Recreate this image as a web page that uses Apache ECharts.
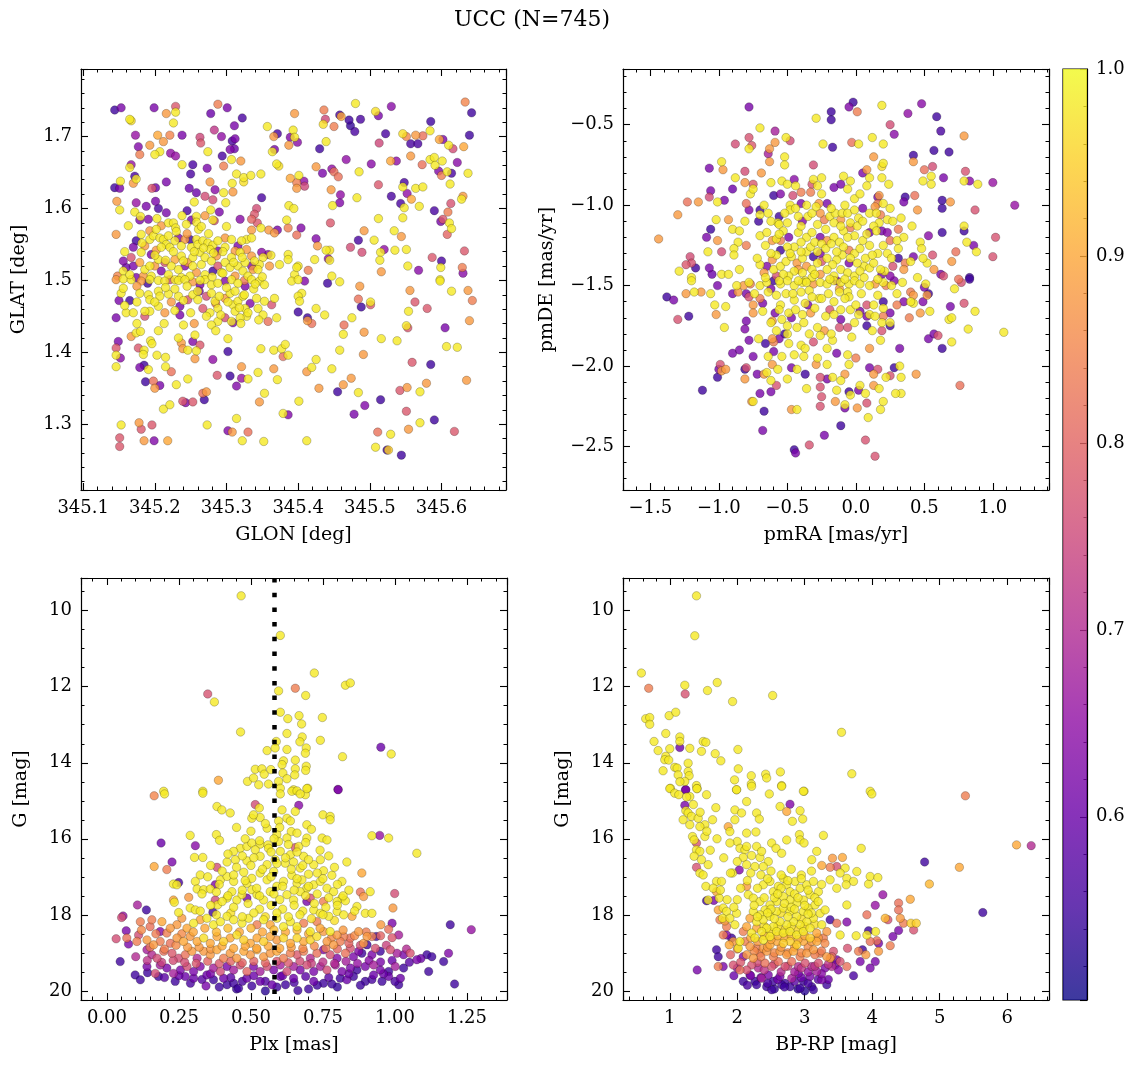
<!DOCTYPE html>
<html><head><meta charset="utf-8">
<script src="https://cdn.jsdelivr.net/npm/echarts@6/dist/echarts.min.js"></script>
<style>html,body{margin:0;padding:0;background:#fff}#c{width:1136px;height:1067px}</style>
</head><body><div id="c"></div>
<script>
const titleText = 'UCC (N=745)';
// [GLON, GLAT, probability]
const p1 = [[345.144,1.737,0.55],[345.153,1.740,0.62],[345.199,1.740,0.62],[345.229,1.742,0.78],[345.216,1.732,0.88],[345.229,1.734,0.98],[345.288,1.745,0.84],[345.301,1.740,0.62],[345.278,1.732,0.60],[345.395,1.732,0.88],[345.436,1.737,0.84],[345.480,1.746,0.98],[345.508,1.735,0.97],[345.530,1.742,0.64],[345.633,1.748,0.85],[345.642,1.733,0.55],[345.458,1.730,0.56],[345.460,1.728,0.90],[345.471,1.723,0.55],[345.473,1.715,0.54],[345.487,1.724,0.56],[345.438,1.724,0.75],[345.435,1.717,0.97],[345.450,1.714,0.84],[345.512,1.729,0.62],[345.585,1.721,0.55],[345.584,1.708,0.98],[345.165,1.724,0.98],[345.167,1.722,0.97],[345.226,1.719,0.98],[345.322,1.726,0.56],[345.311,1.715,0.62],[345.357,1.714,0.98],[345.393,1.709,0.98],[345.371,1.704,0.56],[345.366,1.700,0.88],[345.173,1.702,0.66],[345.204,1.702,0.90],[345.221,1.702,0.85],[345.238,1.702,0.62],[345.263,1.699,0.75],[345.264,1.691,0.78],[345.283,1.709,0.72],[345.293,1.700,0.65],[345.308,1.694,0.56],[345.312,1.697,0.62],[345.389,1.699,0.63],[345.395,1.699,0.98],[345.479,1.707,0.56],[345.522,1.704,0.56],[345.546,1.704,0.97],[345.551,1.700,0.85],[345.564,1.702,0.88],[345.574,1.701,0.82],[345.597,1.696,0.90],[345.602,1.696,0.62],[345.610,1.688,0.98],[345.639,1.702,0.55],[345.177,1.686,0.63],[345.179,1.675,0.84],[345.193,1.688,0.88],[345.212,1.693,0.88],[345.207,1.679,0.98],[345.200,1.675,0.98],[345.222,1.677,0.65],[345.229,1.673,0.66],[345.274,1.679,0.98],[345.305,1.682,0.63],[345.311,1.683,0.60],[345.294,1.673,0.56],[345.307,1.668,0.98],[345.320,1.666,0.88],[345.364,1.679,0.98],[345.367,1.682,0.62],[345.387,1.688,0.88],[345.399,1.692,0.64],[345.430,1.683,0.55],[345.439,1.693,0.98],[345.467,1.668,0.65],[345.502,1.662,0.64],[345.513,1.691,0.75],[345.529,1.666,0.90],[345.537,1.666,0.65],[345.557,1.690,0.56],[345.567,1.690,0.56],[345.557,1.673,0.88],[345.584,1.668,0.98],[345.590,1.671,0.98],[345.591,1.660,0.98],[345.601,1.666,0.98],[345.573,1.661,0.82],[345.616,1.683,0.76],[345.631,1.686,0.90],[345.622,1.664,0.64],[345.165,1.657,0.98],[345.167,1.661,0.66],[345.172,1.645,0.56],[345.174,1.641,0.98],[345.170,1.635,0.88],[345.238,1.661,0.98],[345.253,1.661,0.56],[345.250,1.648,0.56],[345.273,1.656,0.62],[345.296,1.659,0.84],[345.314,1.648,0.98],[345.324,1.643,0.98],[345.324,1.637,0.97],[345.334,1.646,0.98],[345.348,1.648,0.98],[345.370,1.662,0.98],[345.373,1.659,0.97],[345.389,1.642,0.90],[345.401,1.646,0.98],[345.398,1.636,0.84],[345.408,1.638,0.65],[345.409,1.631,0.75],[345.398,1.628,0.88],[345.425,1.658,0.88],[345.434,1.649,0.62],[345.447,1.655,0.65],[345.450,1.651,0.82],[345.456,1.644,0.82],[345.485,1.651,0.98],[345.596,1.652,0.63],[345.600,1.646,0.84],[345.608,1.651,0.98],[345.614,1.649,0.56],[345.637,1.649,0.98],[345.144,1.629,0.55],[345.151,1.628,0.62],[345.152,1.638,0.98],[345.196,1.628,0.78],[345.201,1.629,0.60],[345.216,1.637,0.62],[345.248,1.628,0.60],[345.258,1.622,0.60],[345.277,1.637,0.88],[345.284,1.626,0.64],[345.296,1.622,0.98],[345.308,1.635,0.98],[345.309,1.623,0.88],[345.349,1.615,0.56],[345.446,1.626,0.88],[345.459,1.619,0.65],[345.458,1.608,0.63],[345.448,1.604,0.98],[345.482,1.615,0.98],[345.512,1.633,0.78],[345.530,1.617,0.56],[345.543,1.607,0.56],[345.548,1.636,0.56],[345.546,1.630,0.98],[345.552,1.621,0.65],[345.558,1.613,0.90],[345.564,1.628,0.98],[345.574,1.630,0.98],[345.569,1.603,0.98],[345.548,1.601,0.98],[345.612,1.634,0.98],[345.628,1.613,0.98],[345.630,1.617,0.88],[345.613,1.607,0.77],[345.147,1.610,0.88],[345.151,1.598,0.98],[345.174,1.608,0.66],[345.188,1.603,0.62],[345.201,1.610,0.62],[345.205,1.600,0.56],[345.216,1.594,0.62],[345.245,1.597,0.56],[345.255,1.609,0.98],[345.270,1.617,0.76],[345.281,1.612,0.76],[345.278,1.598,0.98],[345.299,1.608,0.98],[345.342,1.600,0.76],[345.339,1.592,0.78],[345.335,1.585,0.80],[345.343,1.580,0.78],[345.387,1.604,0.98],[345.394,1.600,0.98],[345.590,1.597,0.56],[345.609,1.595,0.84],[345.172,1.595,0.98],[345.180,1.589,0.98],[345.179,1.584,0.62],[345.191,1.585,0.63],[345.203,1.586,0.98],[345.219,1.580,0.98],[345.226,1.580,0.98],[345.229,1.573,0.98],[345.163,1.576,0.98],[345.244,1.578,0.98],[345.251,1.584,0.62],[345.258,1.589,0.98],[345.258,1.581,0.98],[345.261,1.571,0.98],[345.281,1.584,0.98],[345.283,1.583,0.76],[345.146,1.564,0.88],[345.319,1.585,0.64],[345.348,1.573,0.98],[345.359,1.570,0.88],[345.371,1.570,0.62],[345.367,1.566,0.88],[345.386,1.573,0.84],[345.384,1.584,0.98],[345.404,1.573,0.63],[345.445,1.580,0.78],[345.512,1.586,0.98],[345.546,1.587,0.98],[345.602,1.585,0.78],[345.611,1.580,0.98],[345.614,1.572,0.98],[345.599,1.582,0.62],[345.492,1.569,0.88],[345.534,1.569,0.98],[345.544,1.561,0.88],[345.608,1.564,0.80],[345.425,1.558,0.63],[345.427,1.548,0.88],[345.398,1.563,0.82],[345.484,1.556,0.56],[345.473,1.546,0.76],[345.506,1.556,0.98],[345.520,1.543,0.65],[345.515,1.539,0.98],[345.535,1.542,0.98],[345.551,1.543,0.98],[345.632,1.541,0.78],[345.439,1.542,0.98],[345.444,1.542,0.97],[345.442,1.530,0.65],[345.444,1.528,0.98],[345.489,1.539,0.76],[345.514,1.528,0.98],[345.553,1.520,0.98],[345.568,1.514,0.64],[345.587,1.532,0.78],[345.600,1.527,0.56],[345.599,1.518,0.98],[345.629,1.518,0.84],[345.630,1.510,0.64],[345.516,1.512,0.88],[345.386,1.536,0.98],[345.386,1.529,0.98],[345.374,1.522,0.98],[345.423,1.529,0.98],[345.400,1.520,0.98],[345.414,1.514,0.84],[345.395,1.508,0.98],[345.398,1.518,0.98],[345.358,1.536,0.64],[345.362,1.535,0.98],[345.349,1.539,0.64],[345.351,1.532,0.98],[345.335,1.534,0.88],[345.335,1.520,0.63],[345.346,1.522,0.98],[345.344,1.515,0.98],[345.328,1.557,0.98],[345.335,1.559,0.98],[345.321,1.555,0.98],[345.316,1.548,0.62],[345.312,1.541,0.88],[345.447,1.506,0.98],[345.598,1.501,0.98],
[345.156,1.527,0.63],[345.160,1.518,0.60],[345.156,1.513,0.98],[345.148,1.506,0.85],[345.167,1.532,0.77],[345.170,1.520,0.62],[345.179,1.525,0.90],[345.186,1.515,0.98],[345.193,1.520,0.98],[345.195,1.506,0.98],[345.184,1.506,0.88],[345.174,1.504,0.62],[345.193,1.557,0.98],[345.198,1.562,0.98],[345.207,1.559,0.98],[345.212,1.557,0.98],[345.216,1.550,0.98],[345.209,1.546,0.98],[345.202,1.542,0.88],[345.221,1.546,0.98],[345.228,1.555,0.98],[345.219,1.562,0.98],[345.233,1.559,0.63],[345.237,1.548,0.98],[345.242,1.557,0.88],[345.249,1.557,0.55],[345.251,1.546,0.98],[345.258,1.557,0.98],[345.260,1.550,0.98],[345.267,1.555,0.98],[345.274,1.552,0.98],[345.281,1.549,0.98],[345.288,1.555,0.98],[345.298,1.559,0.88],[345.307,1.557,0.98],[345.298,1.546,0.98],[345.288,1.541,0.62],[345.277,1.543,0.98],[345.263,1.539,0.98],[345.253,1.532,0.98],[345.246,1.525,0.88],[345.237,1.534,0.98],[345.228,1.529,0.90],[345.223,1.520,0.98],[345.214,1.525,0.77],[345.205,1.529,0.98],[345.200,1.520,0.88],[345.209,1.513,0.62],[345.219,1.508,0.98],[345.233,1.515,0.98],[345.242,1.520,0.63],[345.253,1.520,0.98],[345.265,1.522,0.98],[345.270,1.532,0.98],[345.279,1.527,0.98],[345.286,1.534,0.88],[345.288,1.520,0.78],[345.298,1.525,0.98],[345.307,1.532,0.98],[345.305,1.518,0.98],[345.293,1.511,0.98],[345.281,1.513,0.55],[345.270,1.508,0.98],[345.258,1.511,0.88],[345.249,1.506,0.98],[345.237,1.504,0.98],[345.228,1.501,0.98],[345.312,1.506,0.88],[345.316,1.520,0.98],[345.323,1.513,0.98],[345.330,1.506,0.98],[345.337,1.515,0.88],[345.339,1.527,0.98],[345.326,1.525,0.98],[345.319,1.539,0.98],[345.328,1.543,0.88],[345.195,1.536,0.62],[345.186,1.548,0.88],[345.181,1.539,0.98],[345.174,1.555,0.55],[345.202,1.571,0.98],[345.209,1.576,0.88],[345.193,1.569,0.88],[345.181,1.564,0.98],[345.170,1.546,0.62],
[345.146,1.501,0.88],[345.156,1.502,0.98],[345.167,1.501,0.98],[345.181,1.499,0.88],[345.190,1.496,0.55],[345.193,1.501,0.98],[345.205,1.500,0.98],[345.214,1.499,0.98],[345.221,1.501,0.77],[345.233,1.500,0.98],[345.242,1.501,0.98],[345.253,1.498,0.88],[345.263,1.494,0.62],[345.270,1.501,0.98],[345.279,1.494,0.98],[345.288,1.496,0.98],[345.298,1.499,0.63],[345.307,1.501,0.98],[345.316,1.496,0.98],[345.326,1.492,0.62],[345.335,1.501,0.98],[345.346,1.499,0.98],[345.353,1.494,0.98],[345.153,1.482,0.98],[345.150,1.472,0.62],[345.165,1.472,0.55],[345.156,1.489,0.98],[345.179,1.482,0.98],[345.191,1.480,0.98],[345.193,1.473,0.98],[345.205,1.485,0.98],[345.207,1.478,0.98],[345.219,1.481,0.98],[345.223,1.470,0.88],[345.233,1.478,0.98],[345.235,1.464,0.62],[345.246,1.473,0.77],[345.253,1.480,0.98],[345.260,1.473,0.98],[345.267,1.461,0.78],[345.272,1.478,0.76],[345.279,1.482,0.98],[345.284,1.471,0.98],[345.288,1.461,0.98],[345.298,1.475,0.88],[345.305,1.482,0.98],[345.309,1.466,0.98],[345.312,1.457,0.98],[345.316,1.471,0.98],[345.323,1.478,0.98],[345.326,1.461,0.98],[345.328,1.450,0.98],[345.333,1.468,0.63],[345.319,1.448,0.98],[345.307,1.443,0.98],[345.298,1.448,0.76],[345.309,1.441,0.62],[345.288,1.443,0.98],[345.279,1.438,0.98],[345.277,1.455,0.98],[345.260,1.485,0.98],[345.160,1.455,0.98],[345.170,1.455,0.98],[345.193,1.457,0.98],[345.205,1.464,0.98],[345.214,1.455,0.88],[345.186,1.450,0.77],[345.186,1.457,0.98],[345.146,1.448,0.62],[345.235,1.452,0.62],[345.344,1.461,0.98],[345.351,1.452,0.98],[345.358,1.443,0.82],[345.370,1.448,0.98],[345.367,1.475,0.98],[345.353,1.471,0.98],[345.363,1.466,0.77],[345.391,1.499,0.98],[345.400,1.501,0.98],[345.405,1.482,0.98],[345.400,1.478,0.98],[345.402,1.471,0.98],[345.409,1.499,0.63],[345.441,1.496,0.55],[345.458,1.498,0.98],[345.486,1.492,0.88],[345.598,1.499,0.98],[345.614,1.485,0.98],[345.556,1.486,0.88],[345.637,1.486,0.88],[345.643,1.472,0.84],[345.563,1.470,0.78],[345.580,1.461,0.78],[345.554,1.457,0.98],[345.639,1.444,0.88],[345.400,1.456,0.55],[345.413,1.448,0.55],[345.413,1.444,0.88],[345.419,1.440,0.82],[345.425,1.461,0.98],[345.437,1.452,0.98],[345.484,1.474,0.82],[345.488,1.463,0.55],[345.501,1.470,0.98],[345.501,1.466,0.78],[345.475,1.448,0.98],[345.464,1.438,0.82],[345.463,1.425,0.98],[345.492,1.428,0.88],[345.551,1.437,0.98],[345.553,1.434,0.78],[345.605,1.434,0.62],[345.516,1.419,0.98],[345.538,1.416,0.98],[345.302,1.419,0.98],[345.233,1.420,0.98],[345.237,1.413,0.88],[345.253,1.415,0.63],[345.256,1.424,0.98],[345.263,1.410,0.78],[345.246,1.403,0.98],[345.258,1.402,0.98],[345.239,1.405,0.88],[345.167,1.422,0.88],[345.174,1.427,0.98],[345.180,1.429,0.98],[345.149,1.415,0.62],[345.146,1.406,0.78],[345.146,1.396,0.98],[345.152,1.392,0.64],[345.177,1.406,0.78],[345.185,1.403,0.98],[345.184,1.397,0.98],[345.194,1.416,0.98],[345.196,1.412,0.98],[345.203,1.396,0.98],[345.215,1.393,0.98],[345.256,1.391,0.88],[345.215,1.380,0.98],[345.223,1.373,0.82],[345.146,1.380,0.98],[345.179,1.379,0.62],[345.185,1.382,0.55],[345.191,1.376,0.98],[345.187,1.359,0.55],[345.198,1.360,0.82],[345.200,1.350,0.88],[345.207,1.354,0.62],[345.230,1.355,0.98],[345.246,1.363,0.98],[345.281,1.390,0.65],[345.287,1.368,0.78],[345.272,1.345,0.88],[345.269,1.334,0.55],[345.267,1.343,0.82],[345.239,1.332,0.78],[345.243,1.330,0.63],[345.253,1.331,0.78],[345.212,1.321,0.98],[345.221,1.327,0.98],[345.302,1.401,0.55],[345.305,1.367,0.55],[345.314,1.353,0.63],[345.321,1.364,0.66],[345.330,1.363,0.98],[345.321,1.380,0.88],[345.344,1.372,0.98],[345.348,1.405,0.98],[345.346,1.331,0.88],[345.353,1.343,0.98],[345.366,1.377,0.88],[345.371,1.362,0.98],[345.366,1.403,0.98],[345.377,1.405,0.98],[345.382,1.411,0.98],[345.379,1.394,0.82],[345.386,1.396,0.98],[345.401,1.332,0.98],[345.412,1.277,0.98],[345.412,1.373,0.88],[345.419,1.379,0.98],[345.425,1.390,0.98],[345.429,1.350,0.88],[345.447,1.377,0.98],[345.455,1.345,0.55],[345.463,1.355,0.88],[345.458,1.403,0.98],[345.474,1.364,0.88],[345.484,1.344,0.98],[345.493,1.326,0.63],[345.478,1.314,0.62],[345.515,1.334,0.55],[345.491,1.397,0.88],[345.379,1.315,0.98],[345.386,1.313,0.63],[345.273,1.299,0.98],[345.302,1.291,0.63],[345.308,1.289,0.88],[345.314,1.308,0.98],[345.322,1.277,0.98],[345.330,1.289,0.82],[345.352,1.276,0.98],[345.178,1.302,0.88],[345.181,1.293,0.78],[345.196,1.299,0.78],[345.185,1.277,0.88],[345.199,1.277,0.63],[345.218,1.277,0.90],[345.153,1.299,0.98],[345.151,1.281,0.78],[345.151,1.269,0.78],[345.511,1.289,0.82],[345.529,1.286,0.98],[345.508,1.268,0.98],[345.524,1.264,0.55],[345.526,1.264,0.95],[345.544,1.257,0.55],[345.542,1.347,0.78],[345.552,1.351,0.88],[345.570,1.345,0.98],[345.579,1.357,0.88],[345.635,1.361,0.88],[345.551,1.318,0.78],[345.554,1.293,0.88],[345.570,1.302,0.98],[345.590,1.306,0.55],[345.559,1.386,0.78],[345.585,1.383,0.55],[345.618,1.290,0.78],[345.607,1.408,0.98],[345.622,1.407,0.98],
[345.200,1.535,0.98],[345.215,1.528,0.98],[345.226,1.540,0.98],[345.240,1.527,0.98],[345.255,1.540,0.98],[345.268,1.545,0.98],[345.282,1.538,0.98],[345.295,1.540,0.98],[345.310,1.525,0.98],[345.322,1.532,0.98],[345.280,1.505,0.98],[345.295,1.510,0.98],[345.263,1.500,0.98],[345.300,1.490,0.98],[345.312,1.485,0.98],[345.325,1.480,0.98],[345.338,1.488,0.98],[345.302,1.470,0.98],[345.318,1.462,0.98],[345.290,1.478,0.98],[345.292,1.452,0.98],[345.330,1.455,0.98],[345.342,1.475,0.98],[345.215,1.490,0.98],[345.228,1.488,0.98],[345.245,1.492,0.98],[345.200,1.470,0.98],[345.175,1.492,0.88],[345.165,1.508,0.98],[345.158,1.540,0.98],[345.182,1.552,0.98],[345.230,1.568,0.98],[345.245,1.565,0.88],[345.265,1.575,0.98],[345.275,1.565,0.98],[345.238,1.590,0.98],[345.270,1.590,0.88],[345.300,1.575,0.98],[345.335,1.570,0.88],[345.290,1.595,0.62],[345.350,1.505,0.98],[345.360,1.520,0.88],[345.340,1.495,0.98],[345.325,1.500,0.84],[345.262,1.485,0.62],[345.285,1.468,0.84],[345.240,1.472,0.98],[345.228,1.458,0.98],[345.250,1.455,0.98],[345.272,1.450,0.98],[345.255,1.440,0.88],[345.285,1.430,0.98],[345.240,1.438,0.98],[345.213,1.440,0.98],[345.175,1.470,0.98],[345.158,1.465,0.98],[345.205,1.430,0.98],[345.175,1.440,0.98],[345.320,1.440,0.98],[345.345,1.445,0.98]];
// [pmRA, pmDE, probability]
const p2 = [[-0.78,-0.39,0.62],[-0.18,-0.42,0.55],[-0.18,-0.47,0.55],[-0.02,-0.36,0.55],[-0.05,-0.39,0.63],[0.01,-0.42,0.84],[0.19,-0.38,0.98],[0.38,-0.43,0.65],[0.48,-0.37,0.64],[0.59,-0.45,0.55],[0.62,-0.54,0.56],[0.25,-0.50,0.76],[0.28,-0.56,0.64],[0.79,-0.57,0.88],[-0.29,-0.46,0.98],[-0.70,-0.52,0.98],[-0.59,-0.54,0.68],[-0.78,-0.58,0.77],[-0.88,-0.62,0.76],[-0.78,-0.65,0.98],[-0.76,-0.63,0.78],[-0.63,-0.65,0.88],[-0.59,-0.61,0.88],[-0.51,-0.58,0.98],[-0.48,-0.60,0.76],[-0.64,-0.68,0.68],[-0.63,-0.73,0.88],[-0.52,-0.70,0.98],[-0.52,-0.75,0.98],[-0.31,-0.75,0.76],[-0.24,-0.62,0.98],[-0.17,-0.64,0.55],[-0.03,-0.61,0.82],[0.02,-0.62,0.98],[0.12,-0.58,0.98],[0.20,-0.62,0.98],[0.57,-0.66,0.55],[0.68,-0.67,0.55],[0.42,-0.69,0.55],[0.42,-0.73,0.88],[0.13,-0.70,0.88],[0.20,-0.74,0.98],[0.19,-0.76,0.97],[-1.07,-0.77,0.62],[-0.98,-0.73,0.98],[-0.97,-0.78,0.88],[-0.81,-0.79,0.76],[-0.69,-0.80,0.88],[-0.88,-0.83,0.98],[-0.81,-0.86,0.88],[-0.75,-0.87,0.78],[-0.77,-0.93,0.98],[-0.75,-0.90,0.98],[-1.06,-0.91,0.62],[-1.07,-0.95,0.76],[-1.01,-0.98,0.98],[-0.96,-0.97,0.62],[-0.90,-0.90,0.60],[-1.15,-0.98,0.88],[-1.23,-0.98,0.82],[-1.30,-1.06,0.88],[-1.44,-1.21,0.88],[-0.62,-0.86,0.98],[-0.54,-0.85,0.98],[-0.55,-0.93,0.63],[-0.60,-0.94,0.55],[-0.50,-0.87,0.98],[-0.45,-0.84,0.64],[-0.44,-0.88,0.98],[-0.40,-0.92,0.84],[-0.46,-0.94,0.76],[-0.33,-0.92,0.84],[-0.31,-0.84,0.98],[-0.25,-0.83,0.98],[-0.28,-0.88,0.98],[-0.25,-0.93,0.98],[-0.32,-0.87,0.77],[-0.16,-0.89,0.62],[-0.11,-0.87,0.62],[-0.09,-0.82,0.98],[-0.04,-0.85,0.98],[-0.06,-0.90,0.98],[-0.01,-0.96,0.98],[0.03,-0.93,0.98],[0.05,-0.80,0.62],[0.08,-0.78,0.88],[0.10,-0.83,0.98],[0.08,-0.88,0.98],[0.19,-0.83,0.98],[0.24,-0.87,0.98],[0.17,-0.94,0.88],[0.16,-0.95,0.62],[0.20,-0.99,0.98],[0.16,-0.99,0.84],[0.36,-0.95,0.55],[0.35,-0.98,0.62],[0.43,-0.94,0.82],[0.50,-0.78,0.82],[0.56,-0.76,0.76],[0.55,-0.82,0.98],[0.49,-0.85,0.98],[0.55,-0.87,0.98],[0.64,-0.83,0.62],[0.80,-0.79,0.77],[0.83,-0.85,0.64],[0.79,-0.85,0.98],[0.89,-0.87,0.98],[1.00,-0.86,0.66],[1.16,-1.00,0.66],[0.69,-0.98,0.88],[0.63,-0.97,0.55],[0.63,-1.02,0.55],[0.87,-1.03,0.77],[-0.80,-0.99,0.82],[-0.78,-1.03,0.63],[-0.70,-1.03,0.55],[-0.67,-1.00,0.98],[-0.70,-1.06,0.98],[-0.64,-1.05,0.98],[-0.56,-1.07,0.55],[-0.57,-1.11,0.98],[-0.56,-1.12,0.98],[-0.71,-1.10,0.55],[-0.81,-1.10,0.98],[-0.93,-1.09,0.88],[-1.02,-1.09,0.98],[-1.06,-1.15,0.55],[-1.09,-1.20,0.62],[-1.01,-1.22,0.88],[-0.90,-1.15,0.98],[-0.85,-1.16,0.98],[-0.86,-1.23,0.98],[-0.89,-1.27,0.98],[-0.89,-1.31,0.98],[-1.08,-1.29,0.98],[-0.98,-1.29,0.76],[-1.21,-1.32,0.76],[-1.20,-1.36,0.77],[-1.24,-1.37,0.78],[-1.17,-1.39,0.55],[-1.29,-1.41,0.98],[-1.07,-1.39,0.62],[-1.05,-1.43,0.60],[-1.20,-1.45,0.98],[-0.98,-1.43,0.98],[-0.93,-1.43,0.98],[-0.48,-1.00,0.98],[-0.40,-0.99,0.62],[-0.48,-1.03,0.98],[-0.42,-1.07,0.98],[-0.39,-1.10,0.63],[-0.35,-1.07,0.98],[-0.32,-1.05,0.98],[-0.29,-1.01,0.98],[-0.27,-0.99,0.88],[-0.21,-0.99,0.62],[-0.26,-1.05,0.88],[-0.23,-1.09,0.84],[-0.19,-1.07,0.98],[-0.15,-1.05,0.98],[-0.10,-1.05,0.98],[-0.11,-1.09,0.88],[-0.06,-1.05,0.98],[-0.01,-1.03,0.98],[0.02,-1.08,0.98],[0.05,-1.02,0.62],[0.10,-1.05,0.98],[0.14,-1.01,0.88],[0.18,-1.06,0.84],[0.23,-1.09,0.98],[0.27,-1.10,0.98],[0.17,-1.11,0.98],[0.13,-1.13,0.98],[0.10,-1.17,0.62],[0.15,-1.16,0.98],[0.19,-1.16,0.62],[0.23,-1.17,0.64],[0.25,-1.22,0.82],[0.31,-1.15,0.84],[0.35,-1.20,0.98],[0.41,-1.13,0.98],[0.45,-1.03,0.88],[0.53,-1.19,0.64],[0.63,-1.17,0.55],[0.79,-1.16,0.55],[0.79,-1.13,0.98],[0.86,-1.25,0.62],[0.88,-1.29,0.98],[1.02,-1.20,0.77],[1.00,-1.32,0.77],[0.81,-1.23,0.98],[0.73,-1.29,0.82],[0.70,-1.35,0.88],[0.75,-1.46,0.82],[0.83,-1.45,0.55],[0.62,-1.43,0.62],[0.64,-1.44,0.77],[0.56,-1.31,0.77],[0.52,-1.36,0.98],[0.57,-1.40,0.88],[0.49,-1.33,0.98],[0.47,-1.23,0.98],[0.48,-1.27,0.98],[0.42,-1.32,0.62],[0.40,-1.35,0.98],[0.36,-1.36,0.84],[0.31,-1.27,0.98],[0.31,-1.33,0.55],[0.27,-1.38,0.77],[0.23,-1.30,0.98],[0.16,-1.30,0.98],[0.21,-1.41,0.98],[0.19,-1.43,0.62],[0.25,-1.44,0.64],
[-0.70,-1.19,0.98],[-0.65,-1.17,0.98],[-0.61,-1.22,0.88],[-0.58,-1.21,0.98],[-0.53,-1.16,0.98],[-0.49,-1.20,0.62],[-0.45,-1.26,0.98],[-0.50,-1.26,0.98],[-0.55,-1.28,0.55],[-0.58,-1.31,0.98],[-0.61,-1.34,0.88],[-0.65,-1.38,0.63],[-0.70,-1.37,0.98],[-0.72,-1.33,0.98],[-0.67,-1.42,0.88],[-0.60,-1.40,0.98],[-0.55,-1.38,0.98],[-0.51,-1.35,0.98],[-0.47,-1.32,0.98],[-0.43,-1.36,0.88],[-0.39,-1.33,0.98],[-0.36,-1.29,0.98],[-0.33,-1.26,0.98],[-0.30,-1.23,0.98],[-0.26,-1.20,0.62],[-0.25,-1.24,0.98],[-0.21,-1.22,0.88],[-0.16,-1.20,0.98],[-0.12,-1.23,0.98],[-0.09,-1.26,0.98],[-0.05,-1.28,0.84],[-0.01,-1.30,0.98],[0.03,-1.27,0.98],[0.07,-1.33,0.98],[0.06,-1.38,0.98],[0.01,-1.36,0.98],[-0.04,-1.33,0.98],[-0.10,-1.31,0.98],[-0.14,-1.34,0.98],[-0.17,-1.37,0.98],[-0.21,-1.33,0.98],[-0.26,-1.30,0.62],[-0.28,-1.36,0.98],[-0.32,-1.40,0.98],[-0.36,-1.38,0.88],[-0.39,-1.42,0.98],[-0.45,-1.41,0.98],[-0.49,-1.44,0.98],[-0.53,-1.43,0.98],[-0.26,-1.43,0.88],[-0.21,-1.40,0.98],[-0.16,-1.44,0.98],[-0.11,-1.40,0.98],[-0.06,-1.42,0.98],[-0.01,-1.44,0.98],[0.03,-1.41,0.98],[0.10,-1.39,0.98],[0.13,-1.36,0.98],[0.18,-1.40,0.98],[-0.36,-1.20,0.98],[-0.42,-1.17,0.98],[-0.22,-1.15,0.98],[-0.09,-1.16,0.98],[-0.01,-1.19,0.98],[0.05,-1.22,0.98],[0.10,-1.25,0.98],[-0.22,-1.27,0.98],[-0.31,-1.32,0.55],[-0.58,-1.44,0.77],[-0.32,-1.45,0.98],[-0.14,-1.47,0.63],[-0.37,-1.47,0.98],[-0.50,-1.11,0.98],[-0.40,-1.13,0.98],[-0.16,-1.11,0.98],[-0.11,-1.13,0.98],[-0.04,-1.14,0.84],[-0.04,-1.11,0.98],[0.01,-1.13,0.98],
[-1.20,-1.47,0.98],[-1.01,-1.50,0.62],[-0.87,-1.50,0.98],[-0.82,-1.50,0.88],[-0.77,-1.49,0.84],[-0.70,-1.50,0.98],[-0.65,-1.48,0.98],[-0.60,-1.47,0.55],[-0.55,-1.49,0.98],[-0.50,-1.47,0.98],[-0.45,-1.50,0.98],[-0.39,-1.48,0.98],[-0.36,-1.48,0.98],[-0.31,-1.49,0.88],[-0.26,-1.48,0.98],[-0.21,-1.49,0.98],[-0.16,-1.47,0.98],[-0.11,-1.48,0.98],[-0.05,-1.49,0.98],[-0.01,-1.47,0.98],[0.03,-1.49,0.98],[0.10,-1.50,0.98],[0.14,-1.49,0.88],[0.20,-1.48,0.98],[0.28,-1.47,0.63],[0.34,-1.48,0.98],[0.51,-1.49,0.98],[0.50,-1.51,0.62],[0.72,-1.52,0.98],[0.77,-1.48,0.77],[0.83,-1.46,0.55],[-1.38,-1.57,0.55],[-1.33,-1.59,0.62],[-1.24,-1.55,0.88],[-1.30,-1.71,0.77],[-1.22,-1.69,0.55],[-1.06,-1.55,0.98],[-1.03,-1.62,0.98],[-1.02,-1.68,0.88],[-0.96,-1.76,0.98],[-0.95,-1.63,0.98],[-0.86,-1.54,0.88],[-0.80,-1.55,0.62],[-0.78,-1.57,0.77],[-0.75,-1.62,0.88],[-0.75,-1.67,0.88],[-0.80,-1.72,0.62],[-0.81,-1.77,0.63],[-0.78,-1.84,0.62],[-0.71,-1.83,0.98],[-0.68,-1.61,0.62],[-0.66,-1.86,0.55],[-0.64,-1.54,0.98],[-0.62,-1.52,0.62],[-0.61,-1.72,0.88],[-0.62,-1.73,0.98],[-0.59,-1.67,0.62],[-0.58,-1.78,0.98],[-0.55,-1.62,0.98],[-0.54,-1.71,0.98],[-0.52,-1.80,0.55],[-0.51,-1.55,0.98],[-0.49,-1.67,0.98],[-0.45,-1.59,0.98],[-0.47,-1.70,0.62],[-0.44,-1.65,0.98],[-0.43,-1.76,0.98],[-0.40,-1.54,0.98],[-0.39,-1.68,0.98],[-0.38,-1.73,0.98],[-0.37,-1.61,0.98],[-0.34,-1.53,0.98],[-0.33,-1.67,0.88],[-0.27,-1.58,0.98],[-0.25,-1.58,0.98],[-0.28,-1.76,0.98],[-0.23,-1.78,0.88],[-0.22,-1.69,0.98],[-0.19,-1.65,0.77],[-0.16,-1.60,0.98],[-0.12,-1.54,0.98],[-0.11,-1.65,0.98],[-0.06,-1.54,0.98],[-0.05,-1.57,0.98],[-0.04,-1.65,0.98],[-0.01,-1.73,0.98],[-0.11,-1.71,0.62],[-0.12,-1.76,0.77],[-0.06,-1.76,0.77],[0.02,-1.68,0.98],[0.03,-1.66,0.62],[0.08,-1.69,0.62],[0.10,-1.68,0.98],[0.08,-1.75,0.55],[0.08,-1.62,0.77],[0.13,-1.62,0.98],[0.14,-1.69,0.98],[0.19,-1.73,0.98],[0.20,-1.69,0.84],[0.19,-1.78,0.77],[0.25,-1.75,0.55],[0.25,-1.67,0.62],[0.25,-1.73,0.98],[0.30,-1.62,0.84],[0.35,-1.60,0.63],[0.40,-1.54,0.84],[0.42,-1.56,0.88],[0.39,-1.70,0.84],[0.42,-1.61,0.98],[0.47,-1.67,0.88],[0.49,-1.60,0.63],[0.52,-1.56,0.88],[0.54,-1.66,0.98],[0.53,-1.55,0.55],[0.69,-1.63,0.62],[0.68,-1.71,0.98],[0.70,-1.70,0.98],[0.79,-1.61,0.77],[0.87,-1.66,0.98],[0.82,-1.77,0.98],[1.08,-1.79,0.98],[0.70,-1.85,0.98],[0.53,-1.83,0.62],[0.57,-1.80,0.62],[0.60,-1.81,0.77],[0.63,-1.89,0.55],[-1.18,-1.54,0.98],[-1.13,-1.54,0.88],[-0.61,-1.83,0.88],[-0.60,-1.85,0.84],[-0.56,-1.83,0.62],[-0.50,-1.80,0.98],[-0.49,-1.86,0.98],[-0.45,-1.93,0.98],[-0.40,-1.87,0.98],[-0.37,-1.89,0.98],[-0.31,-1.85,0.77],[-0.26,-1.81,0.98],[-0.17,-1.84,0.98],[-0.14,-1.92,0.62],[-0.06,-1.93,0.98],[-0.05,-1.99,0.98],[0.00,-1.95,0.84],[0.10,-1.89,0.88],[0.18,-1.84,0.98],[0.32,-1.89,0.62],[0.32,-2.00,0.98],[0.28,-2.01,0.55],[0.33,-2.07,0.98],[0.33,-2.17,0.98],[0.29,-2.17,0.98],[0.25,-2.06,0.77],[0.22,-2.07,0.98],[0.16,-2.02,0.77],[0.13,-2.05,0.88],[0.10,-2.01,0.62],[0.13,-2.12,0.88],[0.17,-2.14,0.98],[0.20,-2.22,0.98],[0.18,-2.27,0.98],[0.08,-2.23,0.77],[0.09,-2.32,0.98],[0.07,-2.17,0.98],[0.03,-2.12,0.98],[0.02,-2.15,0.62],[0.01,-2.26,0.88],[-0.05,-2.16,0.55],[-0.04,-2.18,0.98],[-0.08,-2.24,0.98],[-0.08,-2.26,0.62],[-0.15,-2.22,0.88],[-0.14,-2.15,0.98],[-0.17,-2.07,0.98],[-0.11,-2.09,0.98],[-0.08,-2.05,0.88],[-0.21,-2.08,0.62],[-0.26,-2.07,0.77],[-0.26,-2.13,0.77],[-0.25,-2.19,0.77],[-0.26,-2.25,0.77],[-0.36,-2.14,0.98],[-0.28,-1.95,0.98],[-0.21,-1.99,0.98],[-0.29,-1.99,0.88],[-0.38,-1.94,0.98],[-0.43,-2.02,0.98],[-0.50,-2.08,0.98],[-0.47,-2.01,0.62],[-0.57,-2.02,0.98],[-0.61,-1.99,0.88],[-0.62,-2.09,0.98],[-0.62,-2.16,0.62],[-0.58,-2.12,0.77],[-0.67,-2.05,0.88],[-0.65,-2.04,0.98],[-0.72,-2.05,0.62],[-0.70,-2.17,0.62],[-0.75,-2.22,0.98],[-0.76,-2.22,0.88],[-0.81,-2.08,0.88],[-0.80,-2.01,0.77],[-0.81,-2.02,0.55],[-0.75,-1.94,0.62],[-0.67,-2.28,0.55],[-0.43,-2.27,0.98],[-0.47,-2.27,0.88],[-0.37,-2.05,0.55],[-0.34,-2.49,0.77],[-0.45,-2.52,0.55],[-0.44,-2.54,0.62],[-0.68,-2.40,0.62],[-0.23,-2.43,0.62],[-0.11,-2.37,0.55],[0.07,-2.46,0.77],[0.14,-2.56,0.77],[0.76,-2.12,0.82],[0.44,-2.05,0.88],[-0.98,-2.03,0.88],[-1.00,-2.02,0.62],[-0.99,-1.99,0.77],[-0.95,-2.02,0.88],[-1.01,-2.07,0.55],[-0.90,-1.92,0.62],[-0.85,-1.90,0.62],[-1.12,-2.15,0.55],[-0.64,-1.94,0.98],[-0.54,-1.94,0.98],[-0.60,-1.91,0.62],[-0.21,-1.89,0.98],
[-0.62,-1.10,0.98],[-0.52,-1.05,0.98],[-0.44,-1.02,0.98],[-0.36,-1.00,0.98],[-0.28,-1.12,0.98],[-0.18,-1.02,0.98],[-0.08,-1.00,0.98],[0.05,-1.10,0.98],[0.15,-1.05,0.98],[0.25,-1.02,0.98],[0.33,-1.08,0.98],[-0.66,-1.25,0.98],[-0.56,-1.18,0.98],[-0.40,-1.23,0.98],[-0.32,-1.17,0.98],[-0.18,-1.24,0.98],[-0.06,-1.20,0.98],[0.08,-1.18,0.98],[0.20,-1.25,0.98],[0.30,-1.22,0.98],[-0.62,-1.30,0.98],[-0.48,-1.30,0.98],[-0.40,-1.29,0.98],[-0.28,-1.29,0.98],[-0.14,-1.29,0.98],[0.12,-1.31,0.98],[0.26,-1.33,0.98],[-0.66,-1.45,0.98],[-0.56,-1.47,0.98],[-0.42,-1.47,0.98],[-0.30,-1.43,0.98],[-0.19,-1.46,0.98],[-0.08,-1.46,0.98],[0.06,-1.45,0.98],[0.16,-1.46,0.98],[0.26,-1.50,0.98],[-0.74,-1.55,0.98],[-0.58,-1.56,0.98],[-0.46,-1.55,0.98],[-0.32,-1.57,0.98],[-0.20,-1.55,0.98],[-0.08,-1.58,0.98],[0.04,-1.55,0.98],[0.16,-1.56,0.98],[0.30,-1.55,0.98],[-0.68,-1.66,0.98],[-0.56,-1.65,0.98],[-0.30,-1.64,0.98],[-0.16,-1.68,0.98],[0.00,-1.62,0.98],[0.20,-1.64,0.98],[-0.50,-1.75,0.98],[-0.34,-1.80,0.98],[-0.18,-1.80,0.98],[-0.03,-1.82,0.98],[0.12,-1.78,0.98],[-0.42,-1.40,0.88],[-0.12,-1.52,0.88],[0.22,-1.50,0.84],[-0.70,-1.58,0.84],[-0.35,-1.62,0.62],[-0.05,-1.36,0.62],[0.20,-1.60,0.55],[-0.55,-1.22,0.84],[-0.25,-1.35,0.77],[0.35,-1.40,0.88],[0.45,-1.45,0.98],[0.40,-1.60,0.98],[-0.85,-1.40,0.98],[-0.80,-1.25,0.84],[-0.90,-1.55,0.62],[-0.78,-1.48,0.98]];
// [Plx, G, probability]
const p3 = [[0.466,9.61,0.98],[0.602,10.65,0.98],[0.720,11.64,0.98],[0.654,12.04,0.84],[0.350,12.19,0.77],[0.373,12.40,0.98],[0.596,12.11,0.98],[0.690,12.23,0.98],[0.828,11.96,0.98],[0.845,11.90,0.98],[0.602,12.67,0.98],[0.628,12.84,0.98],[0.667,12.76,0.98],[0.676,12.98,0.98],[0.748,12.81,0.98],[0.464,13.19,0.98],[0.625,13.23,0.98],[0.678,13.32,0.98],[0.670,13.45,0.98],[0.741,13.41,0.98],[0.588,13.44,0.98],[0.556,13.68,0.98],[0.584,13.61,0.98],[0.625,13.65,0.98],[0.692,13.61,0.98],[0.689,13.75,0.98],[0.951,13.59,0.60],[0.987,13.77,0.98],[0.818,13.84,0.98],[0.613,13.95,0.98],[0.654,13.93,0.98],[0.692,14.09,0.98],[0.608,14.05,0.98],[0.515,14.17,0.98],[0.538,14.16,0.98],[0.546,14.30,0.98],[0.569,14.18,0.98],[0.611,14.27,0.98],[0.654,14.16,0.98],[0.690,14.20,0.98],[0.387,14.46,0.90],[0.488,14.49,0.98],[0.509,14.40,0.98],[0.527,14.58,0.98],[0.561,14.56,0.98],[0.596,14.49,0.98],[0.625,14.42,0.98],[0.652,14.32,0.98],[0.602,14.67,0.98],[0.648,14.71,0.98],[0.697,14.67,0.98],[0.802,14.70,0.63],[0.197,14.75,0.98],[0.333,14.75,0.98],
[0.164,14.87,0.85],[0.200,14.82,0.98],[0.333,14.80,0.98],[0.803,14.71,0.63],[0.382,15.15,0.98],[0.399,15.24,0.98],[0.428,15.32,0.98],[0.515,15.10,0.76],[0.529,15.19,0.98],[0.532,15.44,0.98],[0.503,15.46,0.98],[0.509,15.37,0.98],[0.602,14.82,0.98],[0.642,14.75,0.98],[0.660,14.74,0.98],[0.689,14.84,0.98],[0.694,14.68,0.98],[0.671,14.82,0.98],[0.608,15.24,0.98],[0.625,15.46,0.98],[0.637,15.53,0.98],[0.666,15.12,0.64],[0.654,15.28,0.98],[0.640,15.81,0.98],[0.694,15.63,0.98],[0.750,15.37,0.98],[0.775,15.41,0.98],[0.775,15.50,0.98],[0.596,15.53,0.98],[0.556,15.72,0.98],[0.590,15.89,0.98],[0.289,15.91,0.98],[0.380,15.89,0.98],[0.391,16.04,0.98],[0.188,16.11,0.60],[0.307,16.18,0.64],[0.947,15.91,0.66],[0.920,15.92,0.98],[0.978,15.98,0.98],[1.076,16.38,0.98],[0.463,16.25,0.98],[0.486,16.20,0.98],[0.503,16.11,0.98],[0.532,16.14,0.98],[0.515,16.29,0.98],[0.559,16.16,0.98],[0.561,16.25,0.98],[0.596,16.07,0.98],[0.625,15.98,0.98],[0.654,16.23,0.77],[0.666,16.20,0.98],[0.683,16.46,0.98],[0.694,15.98,0.98],[0.747,15.98,0.98],[0.764,16.03,0.98],[0.741,16.55,0.98],[0.833,16.61,0.98],[0.164,16.73,0.90],[0.208,16.81,0.84],[0.226,16.61,0.62],[0.304,16.49,0.98],[0.333,16.49,0.98],[0.382,16.75,0.76],[0.417,16.61,0.98],[0.440,16.33,0.98],[0.446,16.55,0.98],[0.486,16.58,0.98],[0.532,16.46,0.98],[0.556,16.68,0.98],[0.584,16.55,0.98],[0.602,16.33,0.98],[0.637,16.42,0.98],[0.619,16.64,0.98],[0.648,16.61,0.98],[0.671,16.77,0.98],[0.718,16.68,0.98],[0.700,16.93,0.98],[0.752,16.84,0.98],[0.781,16.96,0.98],[0.816,17.12,0.98],[0.885,16.90,0.90],[0.914,17.39,0.98],[0.880,17.40,0.82],[0.891,17.52,0.88],[0.999,17.44,0.76],[0.993,17.82,0.88],[0.231,17.19,0.98],[0.243,17.21,0.98],[0.249,17.15,0.56],[0.307,17.12,0.98],[0.324,16.95,0.98],[0.313,17.32,0.98],[0.336,17.34,0.98],[0.359,17.32,0.98],[0.376,17.21,0.63],[0.394,17.08,0.98],[0.417,16.99,0.98],[0.440,17.12,0.98],[0.475,16.88,0.98],[0.486,17.17,0.98],[0.503,17.04,0.98],[0.532,16.90,0.98],[0.556,17.08,0.98],[0.579,16.86,0.98],[0.590,17.25,0.98],[0.613,17.12,0.98],[0.642,16.96,0.98],[0.660,17.17,0.98],[0.677,17.08,0.98],[0.694,17.30,0.98],[0.718,17.21,0.98],[0.741,17.12,0.98],[0.764,17.30,0.98],[0.787,17.39,0.98],[0.816,17.56,0.98],[0.799,17.65,0.98],[0.828,17.63,0.98],[0.752,17.65,0.84],[0.706,17.56,0.77],[0.694,17.65,0.62],[0.231,17.61,0.90],[0.234,17.67,0.98],[0.284,17.54,0.88],[0.289,17.82,0.98],[0.307,17.87,0.98],[0.324,17.90,0.98],[0.376,17.61,0.76],[0.384,17.74,0.98],[0.417,17.56,0.98],[0.434,17.39,0.98],[0.451,17.61,0.98],[0.469,17.47,0.98],[0.486,17.56,0.62],[0.503,17.34,0.98],[0.521,17.47,0.98],[0.544,17.61,0.98],[0.567,17.39,0.98],[0.625,17.47,0.98],[0.648,17.61,0.98],[0.671,17.39,0.98],[0.718,17.87,0.98],[0.741,17.96,0.98],[0.770,18.04,0.98],[0.799,17.91,0.98],[0.822,18.00,0.98],[0.851,18.04,0.90],[0.868,17.78,0.98],[0.897,17.96,0.98],[0.920,17.96,0.98],[0.106,17.74,0.68],[0.137,17.87,0.55],[0.056,18.03,0.66],[0.051,18.07,0.76],[0.067,18.42,0.62],[0.032,18.63,0.76],[0.075,18.77,0.62],[0.110,18.53,0.76],[0.156,18.13,0.84],[0.191,18.18,0.90],[0.249,17.94,0.98],[0.260,18.09,0.88],[0.368,17.93,0.55],[0.951,18.26,0.88],[0.978,18.38,0.82],[0.990,18.22,0.62],[1.192,18.26,0.55],[1.265,18.39,0.66],[1.013,18.53,0.68],[0.920,18.57,0.84],[0.935,18.57,0.55],[0.891,18.75,0.88],
[0.116,18.18,0.84],[0.150,18.31,0.82],[0.185,18.44,0.63],[0.208,18.48,0.84],[0.243,18.26,0.88],[0.278,18.35,0.90],[0.301,18.22,0.98],[0.324,18.13,0.90],[0.347,18.09,0.98],[0.370,18.26,0.98],[0.394,18.18,0.98],[0.417,18.04,0.98],[0.440,18.13,0.98],[0.469,18.22,0.98],[0.492,18.09,0.98],[0.521,18.26,0.84],[0.544,18.13,0.98],[0.567,18.26,0.90],[0.590,18.09,0.98],[0.613,18.31,0.98],[0.637,18.18,0.98],[0.660,18.31,0.98],[0.683,18.22,0.84],[0.706,18.44,0.98],[0.729,18.18,0.84],[0.752,18.44,0.88],[0.775,18.44,0.98],[0.799,18.53,0.88],[0.822,18.57,0.84],[0.845,18.61,0.82],[0.874,18.44,0.88],[0.903,18.57,0.88],[0.069,18.61,0.82],[0.104,18.70,0.84],[0.139,18.66,0.88],[0.162,18.79,0.88],[0.185,18.70,0.84],[0.220,18.75,0.82],[0.243,18.61,0.88],[0.266,18.70,0.90],[0.289,18.57,0.88],[0.313,18.70,0.90],[0.336,18.61,0.97],[0.359,18.75,0.90],[0.382,18.57,0.90],[0.405,18.70,0.95],[0.428,18.61,0.90],[0.451,18.53,0.97],[0.475,18.66,0.95],[0.498,18.75,0.90],[0.521,18.61,0.90],[0.544,18.70,0.95],[0.567,18.57,0.90],[0.590,18.66,0.88],[0.613,18.61,0.96],[0.637,18.75,0.90],[0.660,18.61,0.96],[0.683,18.70,0.90],[0.706,18.66,0.96],[0.729,18.57,0.97],[0.764,18.70,0.88],[0.787,18.79,0.88],[0.810,18.70,0.84],[0.845,18.88,0.77],[0.874,18.96,0.63],[0.903,18.79,0.55],[0.932,18.88,0.77],
[0.046,19.23,0.55],[0.139,18.92,0.68],[0.156,19.05,0.70],[0.174,19.14,0.76],[0.197,18.96,0.82],[0.226,19.01,0.78],[0.249,19.14,0.76],[0.272,19.05,0.82],[0.295,18.96,0.88],[0.313,19.14,0.70],[0.336,18.96,0.88],[0.359,19.05,0.88],[0.382,18.92,0.90],[0.405,19.14,0.84],[0.428,19.01,0.88],[0.451,19.14,0.88],[0.475,18.96,0.90],[0.498,19.05,0.88],[0.521,18.92,0.90],[0.544,19.10,0.88],[0.567,19.01,0.88],[0.590,18.96,0.90],[0.613,19.14,0.84],[0.637,19.01,0.84],[0.660,19.05,0.78],[0.683,18.96,0.84],[0.706,19.14,0.70],[0.729,19.01,0.82],[0.752,18.92,0.63],[0.775,19.05,0.77],[0.799,19.14,0.63],[0.828,19.01,0.82],[0.856,19.10,0.62],[0.885,19.01,0.55],[0.920,19.05,0.62],[0.949,18.96,0.55],[0.984,18.92,0.77],[1.007,19.01,0.68],[1.030,19.05,0.62],[1.053,19.01,0.77],[1.076,19.18,0.62],[1.111,19.05,0.55],[1.128,19.10,0.55],[1.169,19.23,0.55],[1.186,19.01,0.63],[0.139,19.36,0.62],[0.168,19.54,0.76],[0.185,19.32,0.68],[0.208,19.40,0.62],[0.231,19.54,0.68],[0.255,19.45,0.62],[0.278,19.36,0.76],[0.301,19.49,0.62],[0.324,19.36,0.63],[0.347,19.58,0.60],[0.370,19.40,0.68],[0.394,19.49,0.76],[0.417,19.36,0.62],[0.440,19.45,0.68],[0.463,19.32,0.76],[0.486,19.49,0.80],[0.509,19.36,0.62],[0.532,19.49,0.68],[0.556,19.36,0.76],[0.579,19.45,0.62],[0.602,19.32,0.68],[0.625,19.49,0.76],[0.648,19.36,0.68],[0.671,19.45,0.62],[0.694,19.32,0.76],[0.718,19.49,0.62],[0.741,19.36,0.68],[0.764,19.45,0.76],[0.793,19.32,0.68],[0.816,19.49,0.62],[0.845,19.40,0.62],[0.868,19.45,0.55],[0.897,19.36,0.62],[0.926,19.32,0.68],[0.949,19.45,0.62],[0.978,19.49,0.55],[1.001,19.36,0.68],[1.030,19.40,0.55],[1.117,19.49,0.55],
[0.141,19.52,0.55],[0.179,19.62,0.55],[0.237,19.75,0.55],[0.272,19.62,0.60],[0.301,19.67,0.60],[0.344,19.87,0.62],[0.370,19.71,0.55],[0.405,19.67,0.60],[0.417,19.84,0.55],[0.440,19.80,0.55],[0.457,19.93,0.55],[0.486,19.67,0.60],[0.503,19.87,0.55],[0.532,19.75,0.60],[0.573,19.84,0.60],[0.602,19.62,0.60],[0.620,19.84,0.55],[0.648,19.67,0.60],[0.663,19.99,0.55],[0.700,19.95,0.55],[0.718,19.75,0.60],[0.752,19.80,0.55],[0.781,19.82,0.55],[0.810,19.67,0.55],[0.833,19.71,0.60],[0.856,19.62,0.55],[0.897,19.75,0.55],[0.926,19.58,0.60],[0.955,19.75,0.55],[0.978,19.62,0.60],[1.013,19.84,0.55],[1.019,19.67,0.60],[1.207,19.82,0.55],[0.098,19.58,0.55],[0.116,19.71,0.55],
[0.45,15.70,0.98],[0.50,15.80,0.98],[0.55,15.60,0.98],[0.60,15.70,0.98],[0.66,15.85,0.98],[0.71,15.75,0.98],[0.48,16.00,0.98],[0.53,16.05,0.98],[0.58,16.00,0.98],[0.63,16.15,0.98],[0.69,16.10,0.98],[0.74,16.30,0.98],[0.42,16.40,0.98],[0.47,16.45,0.98],[0.51,16.50,0.98],[0.57,16.35,0.98],[0.62,16.50,0.98],[0.66,16.35,0.98],[0.70,16.55,0.98],[0.77,16.45,0.98],[0.36,16.70,0.98],[0.40,16.85,0.98],[0.45,16.75,0.98],[0.50,16.70,0.98],[0.54,16.80,0.98],[0.59,16.65,0.98],[0.64,16.80,0.98],[0.68,16.70,0.98],[0.73,16.90,0.98],[0.79,16.75,0.98],[0.35,17.00,0.98],[0.39,17.20,0.98],[0.44,16.95,0.98],[0.48,17.10,0.98],[0.52,17.30,0.98],[0.57,17.00,0.98],[0.61,17.25,0.98],[0.66,17.05,0.98],[0.70,17.25,0.98],[0.75,17.05,0.98],[0.80,17.20,0.98],[0.84,17.35,0.98],[0.33,17.45,0.98],[0.38,17.40,0.98],[0.42,17.50,0.98],[0.47,17.35,0.98],[0.53,17.50,0.98],[0.58,17.45,0.98],[0.60,17.60,0.98],[0.65,17.35,0.98],[0.69,17.50,0.98],[0.73,17.45,0.98],[0.77,17.55,0.98],[0.82,17.50,0.98],[0.36,17.75,0.98],[0.40,17.65,0.98],[0.44,17.80,0.98],[0.49,17.70,0.98],[0.53,17.85,0.98],[0.57,17.75,0.98],[0.61,17.85,0.98],[0.65,17.75,0.98],[0.68,17.90,0.98],[0.72,17.70,0.98],[0.76,17.80,0.98],[0.80,17.75,0.98],[0.86,17.90,0.98],[0.38,18.00,0.98],[0.43,17.95,0.97],[0.47,18.05,0.98],[0.51,17.95,0.98],[0.55,18.05,0.97],[0.59,17.95,0.98],[0.63,18.05,0.98],[0.67,18.00,0.98],[0.71,18.10,0.97],[0.75,18.00,0.98],[0.79,18.15,0.97],
[0.12,18.40,0.86],[0.17,18.50,0.84],[0.22,18.35,0.88],[0.26,18.50,0.86],[0.30,18.45,0.90],[0.34,18.35,0.90],[0.38,18.45,0.92],[0.42,18.35,0.93],[0.46,18.45,0.90],[0.50,18.35,0.92],[0.54,18.45,0.90],[0.58,18.40,0.93],[0.62,18.45,0.90],[0.66,18.40,0.92],[0.70,18.50,0.90],[0.74,18.35,0.90],[0.78,18.60,0.86],[0.82,18.40,0.88],[0.86,18.55,0.86],[0.90,18.45,0.84],[0.95,18.55,0.80],[0.99,18.60,0.78],[0.15,18.85,0.82],[0.20,18.90,0.84],[0.24,18.80,0.86],[0.28,18.85,0.88],[0.32,18.85,0.88],[0.36,18.90,0.88],[0.40,18.82,0.90],[0.44,18.88,0.90],[0.48,18.82,0.90],[0.52,18.88,0.90],[0.56,18.82,0.90],[0.60,18.88,0.90],[0.64,18.85,0.88],[0.68,18.88,0.86],[0.72,18.82,0.86],[0.76,18.88,0.84],[0.80,18.90,0.80],[0.84,18.75,0.80],[0.88,18.80,0.76],[0.97,18.80,0.74],[1.04,18.90,0.70],
[0.10,19.10,0.70],[0.14,19.20,0.72],[0.19,19.25,0.74],[0.23,19.20,0.76],[0.27,19.25,0.76],[0.31,19.28,0.78],[0.35,19.22,0.80],[0.39,19.28,0.78],[0.43,19.22,0.80],[0.47,19.26,0.80],[0.51,19.22,0.80],[0.55,19.26,0.80],[0.59,19.22,0.78],[0.63,19.26,0.78],[0.67,19.22,0.76],[0.71,19.28,0.74],[0.75,19.24,0.72],[0.79,19.28,0.70],[0.83,19.22,0.68],[0.87,19.28,0.66],[0.91,19.20,0.64],[0.95,19.24,0.62],[0.99,19.20,0.60],[1.05,19.25,0.58],[1.09,19.15,0.60],
[0.20,19.65,0.58],[0.25,19.60,0.60],[0.29,19.80,0.56],[0.33,19.70,0.58],[0.36,19.55,0.62],[0.39,19.90,0.55],[0.43,19.65,0.58],[0.47,19.75,0.56],[0.51,19.60,0.60],[0.55,19.75,0.57],[0.59,19.90,0.55],[0.61,19.60,0.60],[0.65,19.78,0.56],[0.69,19.62,0.58],[0.73,19.85,0.55],[0.77,19.65,0.58],[0.80,19.90,0.54],[0.84,19.55,0.60],[0.88,19.85,0.55],[0.92,19.70,0.56],[0.96,19.55,0.60],[1.00,19.75,0.56],[0.45,19.95,0.54],[0.55,20.00,0.53]];
// [BP-RP, G, probability]
const p4 = [[1.396,9.61,0.98],[1.371,10.66,0.98],[0.579,11.64,0.98],[0.688,12.04,0.84],[1.223,11.96,0.98],[1.228,12.19,0.77],[1.559,12.10,0.98],[1.703,11.89,0.98],[1.931,12.39,0.98],[2.525,12.23,0.98],[0.644,12.84,0.98],[0.703,12.81,0.98],[0.703,12.99,0.98],[0.990,12.76,0.98],[1.089,12.67,0.98],[0.767,13.44,0.98],[0.941,13.23,0.98],[1.149,13.32,0.98],[1.149,13.44,0.98],[1.149,13.60,0.60],[1.297,13.62,0.98],[1.495,13.44,0.98],[1.535,13.46,0.98],[1.470,13.70,0.98],[1.673,13.76,0.98],[1.757,13.95,0.98],[2.010,13.65,0.98],[2.015,14.16,0.98],[0.827,13.68,0.98],[0.941,13.83,0.98],[1.000,13.63,0.98],[0.926,13.92,0.98],[0.985,13.93,0.98],[1.272,14.01,0.98],[1.074,14.12,0.98],[1.109,14.14,0.98],[1.272,14.23,0.98],[0.901,14.21,0.98],[1.124,14.32,0.98],[1.287,14.34,0.98],[1.223,14.49,0.98],[1.396,14.60,0.98],[1.406,14.68,0.98],[1.010,14.67,0.98],[1.233,14.71,0.62],[1.960,14.45,0.98],[2.208,14.34,0.98],[2.208,14.56,0.98],[2.421,14.30,0.98],[2.436,14.40,0.98],[2.639,14.24,0.98],[2.658,14.60,0.98],[2.990,14.75,0.98],[3.545,13.20,0.98],[3.698,14.29,0.98],[3.970,14.75,0.98],[1.990,14.71,0.98],
[1.000,14.68,0.98],[1.074,14.80,0.98],[1.134,14.84,0.98],[1.238,14.71,0.62],[1.401,14.68,0.98],[1.297,14.89,0.98],[1.545,14.84,0.98],[1.683,15.18,0.98],[1.990,14.71,0.98],[2.213,14.62,0.98],[2.475,14.82,0.98],[2.658,14.62,0.98],[2.980,14.75,0.98],[3.995,14.82,0.98],[5.381,14.87,0.84],[1.223,15.12,0.62],[1.238,15.26,0.98],[1.198,15.50,0.98],[1.272,15.32,0.98],[1.322,15.41,0.98],[1.421,15.46,0.98],[1.297,15.63,0.98],[1.520,15.63,0.98],[1.634,15.50,0.98],[1.446,15.68,0.98],[1.337,15.94,0.98],[1.361,16.03,0.98],[1.396,16.11,0.77],[1.520,15.94,0.98],[1.965,15.24,0.98],[1.965,15.50,0.98],[2.064,15.32,0.98],[2.139,15.02,0.98],[2.287,15.32,0.98],[2.327,15.48,0.98],[2.634,15.15,0.98],[2.782,15.09,0.63],[2.733,15.28,0.90],[2.817,15.54,0.98],[2.931,15.26,0.98],[2.970,15.48,0.98],[1.866,15.68,0.90],[1.891,15.81,0.98],[2.139,15.85,0.98],[2.277,15.82,0.98],[2.921,15.89,0.98],[2.931,16.03,0.98],[3.277,15.91,0.98],[2.000,16.07,0.98],[2.040,16.25,0.98],[2.114,16.29,0.98],[1.891,16.11,0.98],[2.139,16.20,0.98],[2.287,16.20,0.98],[2.510,16.11,0.98],[2.574,16.25,0.98],[2.733,16.03,0.98],[2.990,16.11,0.98],[3.837,16.25,0.98],[6.139,16.16,0.90],[6.356,16.18,0.70],[1.396,16.29,0.98],[1.446,16.33,0.98],[1.361,16.46,0.98],[1.470,16.55,0.98],[1.396,16.75,0.77],[1.446,16.90,0.98],[1.569,16.68,0.98],[1.495,16.95,0.98],[1.535,17.25,0.98],[1.931,16.90,0.98],[2.030,16.82,0.63],[2.089,16.49,0.98],[2.213,16.44,0.98],[2.337,16.49,0.98],[2.361,16.33,0.98],[2.460,16.60,0.98],[2.139,16.68,0.98],[2.262,16.73,0.98],[2.386,16.73,0.98],[2.658,16.38,0.98],[3.104,16.55,0.98],[3.178,16.33,0.98],[3.252,16.70,0.90],[3.376,16.75,0.84],[3.411,16.51,0.88],[3.475,16.73,0.77],[3.559,16.49,0.90],[3.599,16.77,0.98],[3.772,16.86,0.98],[3.624,17.04,0.98],[3.723,17.12,0.98],[3.525,16.90,0.98],[3.376,17.08,0.98],[3.475,17.30,0.98],[3.614,17.21,0.98],[3.946,17.19,0.98],[3.970,16.99,0.98],[4.084,17.02,0.98],[4.777,16.61,0.55],[5.292,16.75,0.90],[4.847,17.19,0.92],[5.639,17.94,0.55],[4.158,17.47,0.66],[4.045,17.75,0.66],[4.391,17.69,0.82],[4.391,17.87,0.82],[4.564,17.59,0.90],[3.624,17.74,0.98],[4.193,18.09,0.92],[4.233,18.13,0.77],[4.416,18.09,0.88],[4.465,18.22,0.84],[4.574,18.22,0.95],[4.653,18.22,0.95],[4.614,18.40,0.77],[3.921,18.00,0.82],[3.762,18.55,0.98],[3.921,18.53,0.98],[3.946,18.42,0.55],[4.050,18.44,0.98],[3.525,18.53,0.98],[3.475,18.22,0.82],[3.624,18.19,0.63],[3.376,18.13,0.55],[4.307,18.57,0.62],[4.391,18.41,0.62],[4.267,18.81,0.84],[4.094,18.75,0.62],[4.069,18.68,0.82],[3.970,18.70,0.82],[4.094,18.96,0.88],[3.797,18.96,0.84],[3.856,18.92,0.55],[3.906,19.05,0.88],[3.822,19.23,0.62],[3.970,19.40,0.62],[4.045,19.23,0.62],[3.634,18.88,0.77],[3.624,19.36,0.82],[3.723,19.60,0.56],[3.376,19.14,0.88],[3.475,19.18,0.62],[3.450,19.32,0.62],[3.525,19.23,0.77],
[1.693,17.12,0.98],[1.644,17.30,0.98],[1.767,17.12,0.98],[1.693,17.39,0.90],[1.733,17.56,0.98],[1.653,17.62,0.62],[1.569,17.61,0.98],[1.545,17.63,0.55],[1.792,17.82,0.98],[1.842,17.91,0.98],[1.718,17.87,0.90],[1.782,18.09,0.98],[1.891,18.09,0.98],[1.990,17.96,0.98],[1.743,18.13,0.84],[1.817,18.16,0.88],[1.965,18.26,0.98],[1.842,18.31,0.84],[1.842,18.53,0.63],[1.792,18.53,0.84],[1.916,18.61,0.55],[1.941,18.70,0.88],[1.881,18.79,0.90],[2.015,18.88,0.98],[2.040,18.70,0.98],[1.693,18.92,0.55],[1.718,19.10,0.55],[1.718,19.36,0.84],[1.792,19.36,0.62],[1.406,19.45,0.62],[1.941,19.32,0.77],[2.040,19.45,0.82],[2.089,19.10,0.63],
[2.139,17.25,0.88],[2.163,17.47,0.98],[2.238,17.56,0.98],[2.337,17.65,0.98],[2.386,17.21,0.98],[2.485,17.12,0.98],[2.535,17.39,0.98],[2.609,17.25,0.98],[2.683,17.04,0.98],[2.733,17.21,0.98],[2.782,17.39,0.98],[2.856,17.12,0.98],[2.931,17.30,0.98],[3.030,17.21,0.98],[3.129,17.12,0.98],[3.203,17.39,0.98],[3.079,17.47,0.98],[2.980,17.61,0.98],[2.881,17.69,0.98],[2.782,17.61,0.98],[2.683,17.52,0.98],[2.584,17.65,0.98],[2.485,17.74,0.98],[2.411,17.87,0.98],[2.337,18.00,0.98],[2.238,17.91,0.98],[2.188,18.09,0.90],[2.287,18.18,0.98],[2.386,18.13,0.98],[2.485,18.04,0.98],[2.584,17.91,0.98],[2.683,17.82,0.98],[2.782,17.91,0.98],[2.881,18.04,0.98],[2.980,17.91,0.98],[3.054,17.82,0.98],[3.153,17.74,0.98],[3.228,17.96,0.98],[3.302,17.87,0.98],[3.129,18.09,0.98],[3.030,18.18,0.98],[2.931,18.26,0.98],[2.832,18.18,0.98],[2.733,18.26,0.98],[2.634,18.18,0.98],[2.535,18.31,0.98],[2.436,18.35,0.98],[2.361,18.44,0.98],[2.287,18.35,0.90],[2.213,18.48,0.98],[2.139,18.31,0.90],[2.089,18.44,0.84],[2.262,18.61,0.98],[2.386,18.66,0.98],[2.485,18.57,0.98],[2.584,18.44,0.98],[2.683,18.48,0.98],[2.782,18.44,0.98],[2.881,18.53,0.98],[2.980,18.44,0.98],[3.079,18.35,0.98],[3.178,18.48,0.90],[3.252,18.26,0.98],[3.327,18.44,0.88],[3.277,18.61,0.84],[3.178,18.70,0.90],[3.079,18.61,0.95],[2.980,18.70,0.90],[2.881,18.79,0.95],[2.782,18.70,0.95],[2.683,18.75,0.95],[2.584,18.70,0.90],[2.485,18.79,0.90],[2.386,18.88,0.88],[2.287,18.88,0.84],[2.188,18.83,0.88],[2.114,18.70,0.84],[2.139,19.05,0.88],[2.238,19.14,0.88],[2.337,19.01,0.84],[2.436,18.96,0.88],[2.535,19.10,0.84],[2.634,18.96,0.88],[2.733,19.05,0.88],[2.832,18.96,0.90],[2.931,19.10,0.84],[3.030,19.01,0.88],[3.129,18.92,0.88],[3.228,19.01,0.84],[3.327,19.10,0.88],[3.426,18.96,0.77],[2.213,19.32,0.77],[2.312,19.40,0.70],[2.411,19.27,0.82],[2.510,19.36,0.77],[2.609,19.23,0.82],[2.708,19.36,0.77],[2.807,19.23,0.82],[2.906,19.36,0.70],[3.005,19.27,0.77],[3.104,19.36,0.70],[3.203,19.27,0.77],[3.302,19.40,0.63],[3.401,19.36,0.70],[2.139,19.45,0.77],[2.089,19.75,0.55],[2.188,19.58,0.62],[2.262,19.75,0.55],[2.361,19.67,0.68],[2.460,19.58,0.62],[2.535,19.75,0.55],[2.634,19.62,0.62],[2.708,19.80,0.55],[2.807,19.67,0.68],[2.906,19.54,0.62],[2.980,19.75,0.55],[3.079,19.62,0.62],[3.178,19.49,0.68],[3.252,19.71,0.62],[3.327,19.84,0.55],[2.287,19.84,0.55],[2.436,19.89,0.55],[2.510,19.97,0.55],[2.658,19.84,0.55],[2.782,19.89,0.55],[2.931,19.93,0.55],[3.104,19.89,0.55],[3.129,19.97,0.55],
[2.20,16.90,0.98],[2.35,16.95,0.98],[2.50,16.85,0.98],[2.65,16.95,0.98],[2.80,16.80,0.98],[2.95,16.95,0.98],[3.10,16.85,0.98],[2.15,17.10,0.98],[2.30,17.30,0.98],[2.45,17.05,0.98],[2.55,17.55,0.98],[2.65,17.30,0.98],[2.75,17.10,0.98],[2.85,17.45,0.98],[2.95,17.05,0.98],[3.05,17.35,0.98],[3.15,17.55,0.98],[3.25,17.20,0.98],[2.25,17.75,0.98],[2.40,17.55,0.98],[2.50,17.85,0.98],[2.60,17.45,0.98],[2.70,17.70,0.98],[2.80,17.80,0.98],[2.90,17.55,0.98],[3.00,17.75,0.98],[3.10,17.95,0.98],[3.20,17.65,0.98],[2.30,18.05,0.98],[2.45,17.95,0.98],[2.55,18.10,0.98],[2.65,17.95,0.97],[2.75,18.05,0.98],[2.85,17.85,0.98],[2.95,18.10,0.97],[3.05,17.98,0.98],[2.40,18.30,0.97],[2.50,18.45,0.96],[2.60,18.30,0.97],[2.70,18.40,0.96],[2.80,18.30,0.97],[2.90,18.40,0.96],[3.00,18.30,0.96],[3.15,18.25,0.97],[2.00,17.60,0.98],[2.05,17.30,0.98],[1.95,17.80,0.98],[1.85,17.60,0.98],[1.75,17.35,0.98],[1.90,16.90,0.98],[2.00,16.60,0.98],[1.80,16.50,0.98],[1.60,16.30,0.98],[1.70,16.00,0.98],[1.55,15.80,0.98],[1.45,15.30,0.98],[1.35,15.10,0.98],[1.25,14.90,0.98],[1.15,14.50,0.98],
[2.20,18.60,0.90],[2.30,18.70,0.88],[2.40,18.55,0.92],[2.50,18.65,0.90],[2.60,18.55,0.92],[2.70,18.60,0.90],[2.80,18.55,0.92],[2.90,18.65,0.90],[3.00,18.55,0.90],[3.10,18.70,0.88],[3.20,18.60,0.88],[3.30,18.75,0.86],[2.25,18.95,0.86],[2.35,19.10,0.84],[2.45,18.85,0.88],[2.55,19.00,0.86],[2.65,18.85,0.88],[2.75,19.00,0.86],[2.85,18.85,0.88],[2.95,19.00,0.86],[3.05,18.85,0.86],[3.15,19.05,0.84],[3.25,18.95,0.84],[3.40,19.10,0.80],[2.00,18.90,0.84],[1.90,19.05,0.80],[2.05,19.25,0.78],
[2.30,19.25,0.76],[2.40,19.45,0.72],[2.55,19.30,0.76],[2.65,19.50,0.70],[2.75,19.35,0.74],[2.85,19.50,0.68],[2.95,19.40,0.72],[3.05,19.50,0.66],[3.15,19.35,0.72],[3.25,19.55,0.64],[3.35,19.30,0.72],[3.50,19.45,0.64],[2.20,19.60,0.62],[2.35,19.65,0.60],[2.45,19.80,0.56],[2.60,19.70,0.60],[2.70,19.90,0.55],[2.85,19.75,0.58],[2.95,19.65,0.60],[3.05,19.80,0.56],[3.20,19.70,0.58],[3.35,19.70,0.60],[2.55,19.95,0.54],[2.90,19.95,0.53],[3.00,20.00,0.53],[2.15,19.85,0.56],[1.95,19.60,0.60],[2.00,19.40,0.66]];
const plxMarker = 0.576;            // dotted vertical line in the Plx panel
const probRange = [0.502, 1.0];     // colour-bar limits
const plasma = ['#0d0887','#41049d','#6a00a8','#8f0da4','#b12a90','#cc4778','#e16462','#f2844b','#fca636','#fcce25','#f0f921'];

const FONT = 'DejaVu Serif';
function fmt(interval, dec) {
  return function (v) {
    const k = v / interval;
    if (Math.abs(k - Math.round(k)) > 1e-6) return '';
    const s = Math.abs(v).toFixed(dec);
    return (v < -1e-9 ? '\u2212' : '') + s;
  };
}
const panels = [
  {grid:{left:81,top:69,width:425,height:421},
   x:{min:345.097,max:345.690,int:0.1,minor:5,dec:1,name:'GLON [deg]',gap:36},
   y:{min:1.2085,max:1.794,int:0.1,minor:5,dec:1,name:'GLAT [deg]',gap:52}, data:p1},
  {grid:{left:623,top:69,width:426,height:421},
   x:{min:-1.70,max:1.41,int:0.5,minor:5,dec:1,name:'pmRA [mas/yr]',gap:36},
   y:{min:-2.77,max:-0.154,int:0.5,minor:5,dec:1,name:'pmDE [mas/yr]',gap:66}, data:p2},
  {grid:{left:81,top:578,width:426,height:422},
   x:{min:-0.090,max:1.389,int:0.25,minor:5,dec:2,name:'Plx [mas]',gap:36},
   y:{min:9.14,max:20.24,int:2,minor:4,dec:0,inv:true,name:'G [mag]',gap:50}, data:p3},
  {grid:{left:623,top:578,width:426,height:422},
   x:{min:0.307,max:6.62,int:1,minor:5,dec:0,name:'BP-RP [mag]',gap:36},
   y:{min:9.14,max:20.24,int:2,minor:4,dec:0,inv:true,name:'G [mag]',gap:50}, data:p4}
];
function axis(gi, c, pos, main) {
  return {
    type:'value', gridIndex:gi, position:pos, min:c.min, max:c.max,
    minInterval:c.int, maxInterval:c.int, splitNumber:5, inverse:!!c.inv,
    axisLine:{show:true,onZero:false,lineStyle:{color:'#000',width:1.2}},
    axisTick:{show:true,inside:true,length:7,lineStyle:{color:'#000',width:1.1}},
    minorTick:{show:true,splitNumber:c.minor,length:3.5,lineStyle:{color:'#000',width:1}},
    splitLine:{show:false}, minorSplitLine:{show:false},
    axisLabel:{show:main, formatter:fmt(c.int,c.dec), fontFamily:FONT, fontSize:18, color:'#000', margin:9},
    name: main ? c.name : '', nameLocation:'middle', nameGap:c.gap, nameMoveOverlap:false,
    nameTextStyle:{fontFamily:FONT,fontSize:19,color:'#000'}
  };
}
const grids = [], xAxes = [], yAxes = [], series = [];
panels.forEach((p, i) => {
  grids.push(Object.assign({outerBoundsMode:'none', containLabel:false}, p.grid));
  xAxes.push(axis(i, p.x, 'bottom', true));
  xAxes.push(axis(i, p.x, 'top', false));
  yAxes.push(axis(i, p.y, 'left', true));
  yAxes.push(axis(i, p.y, 'right', false));
});
panels.forEach((p, i) => {
  const sorted = p.data.slice().sort((a, b) => a[2] - b[2]);
  series.push({type:'scatter', xAxisIndex:2*i, yAxisIndex:2*i, data:sorted, symbol:'circle', symbolSize:8.5,
    itemStyle:{opacity:0.8, borderColor:'rgba(0,0,0,0.55)', borderWidth:0.5}, silent:true, z:2});
});
// dotted marker line in the Plx panel
series.push({type:'line', xAxisIndex:4, yAxisIndex:4, data:[], z:10, silent:true,
  markLine:{silent:true, symbol:['none','none'], label:{show:false}, animation:false,
    lineStyle:{color:'#000', width:4.5, type:[4.5,10.2], cap:'butt'}, emphasis:{disabled:true},
    data:[{xAxis:plxMarker}]}});
// colour bar
grids.push({left:1063, top:69, width:24, height:931, show:true, borderColor:'#000', borderWidth:1.2, backgroundColor:'rgba(0,0,0,0)', outerBoundsMode:'none'});
xAxes.push({type:'category', gridIndex:4, data:[''], show:false});
yAxes.push({type:'value', gridIndex:4, position:'right', min:probRange[0], max:probRange[1], minInterval:0.1, maxInterval:0.1, splitNumber:5,
  axisLine:{show:true,lineStyle:{color:'#000',width:1.2}},
  axisTick:{show:true,inside:true,length:7,lineStyle:{color:'#000',width:1.1}},
  minorTick:{show:true,splitNumber:5,length:3.5,lineStyle:{color:'#000',width:1}},
  splitLine:{show:false},
  axisLabel:{formatter:fmt(0.1,1), fontFamily:FONT, fontSize:18, color:'#000', margin:9}});
const stops = plasma.map((c, k) => ({offset:k/(plasma.length-1), color:c}));
series.push({type:'bar', xAxisIndex:8, yAxisIndex:8, stack:'cb', barWidth:'100%', data:[probRange[0]], itemStyle:{color:'rgba(0,0,0,0)'}, silent:true, z:1});
series.push({type:'bar', xAxisIndex:8, yAxisIndex:8, stack:'cb', barWidth:'100%', data:[probRange[1]-probRange[0]], silent:true, z:1,
  itemStyle:{opacity:0.8, color:new echarts.graphic.LinearGradient(0,1,0,0,stops)}});

const chart = echarts.init(document.getElementById('c'), null, {renderer:'canvas'});
chart.setOption({
  animation:false, backgroundColor:'#fff',
  textStyle:{fontFamily:FONT},
  title:{text:titleText, left:454, top:9, padding:0, textStyle:{fontFamily:FONT, fontSize:22, fontWeight:'normal', color:'#000'}},
  grid:grids, xAxis:xAxes, yAxis:yAxes,
  visualMap:{type:'continuous', show:false, min:probRange[0], max:probRange[1], dimension:2, seriesIndex:[0,1,2,3], inRange:{color:plasma}},
  series:series
});
</script></body></html>
